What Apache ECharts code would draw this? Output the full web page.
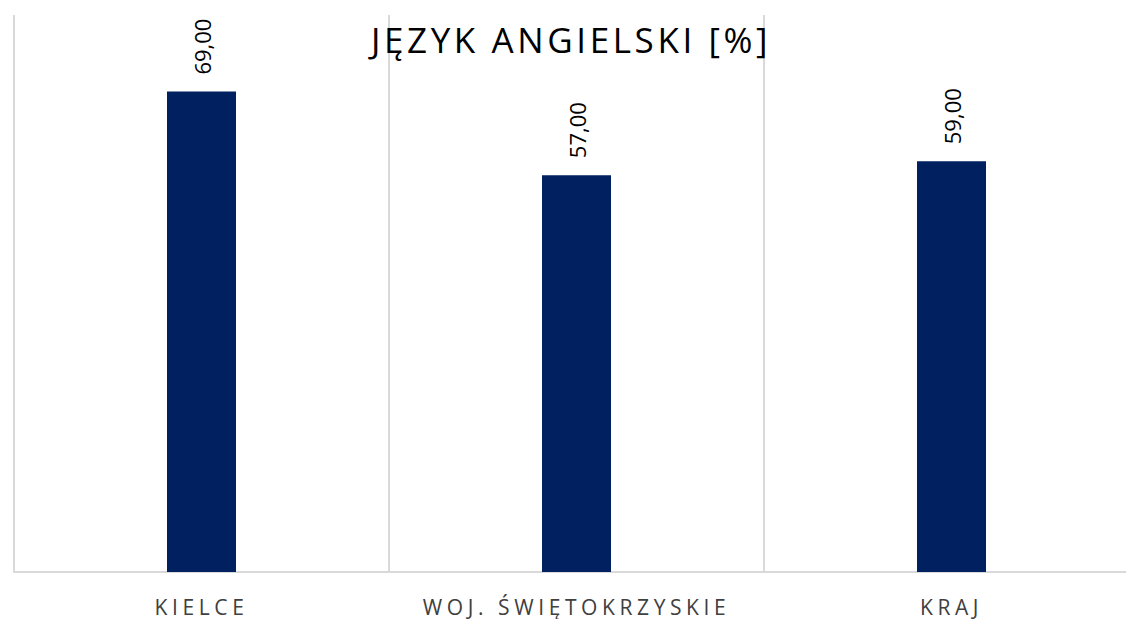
<!DOCTYPE html>
<html>
<head>
<meta charset="utf-8">
<script src="https://cdn.jsdelivr.net/npm/echarts@6/dist/echarts.min.js"></script>
<style>
  html, body { margin: 0; padding: 0; background: #fff; }
  #chart { width: 1126px; height: 619px; }
  /* rozstrzelony tekst jak w oryginale (tytuł i kategorie) */
  #chart text { letter-spacing: 3.6px; }
  #chart text[style*="21px"] { letter-spacing: 4.6px; }
  #chart text[style*="22px"] { letter-spacing: 0; }
</style>
</head>
<body>
<div id="chart"></div>
<script>
// dane z wykresu
const categories = ['KIELCE', 'WOJ. ŚWIĘTOKRZYSKIE', 'KRAJ']
const values = [69, 57, 59]
const titleText = 'JĘZYK ANGIELSKI [%]'

const myChart = echarts.init(document.getElementById('chart'), null, { renderer: 'svg' })
myChart.setOption({
  animation: false,
  title: {
    text: titleText,
    left: 371,
    top: 22,
    padding: 0,
    textStyle: {
      fontFamily: 'Open Sans',
      fontSize: 35,
      fontWeight: 'normal',
      color: '#000',
    },
  },
  grid: {
    left: 14,
    width: 1125,
    top: 15,
    bottom: 47,
    outerBoundsMode: 'none',
  },
  xAxis: {
    type: 'category',
    data: categories,
    axisLine: {
      lineStyle: { color: '#d9d9d9', width: 2 },
    },
    axisTick: { show: false },
    axisLabel: {
      color: '#404040',
      fontFamily: 'Open Sans',
      fontSize: 21,
      margin: 24,
    },
    splitLine: {
      show: true,
      lineStyle: { color: '#d9d9d9', width: 2 },
    },
  },
  yAxis: {
    type: 'value',
    min: 0,
    max: 80,
    show: false,
  },
  series: [
    {
      type: 'bar',
      data: values,
      barWidth: 69,
      itemStyle: { color: '#002060' },
      label: {
        show: true,
        position: 'top',
        rotate: 90,
        align: 'left',
        verticalAlign: 'middle',
        distance: 17,
        color: '#000',
        fontFamily: 'Open Sans',
        fontSize: 22,
        formatter: (p) => p.value.toFixed(2).replace('.', ','),
      },
    },
  ],
})
</script>
</body>
</html>
